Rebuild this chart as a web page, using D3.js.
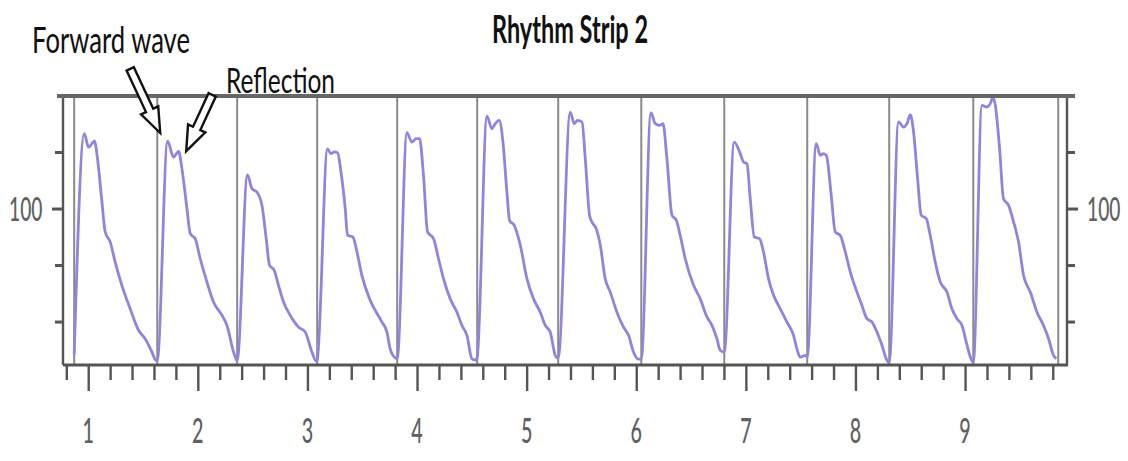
<!DOCTYPE html>
<html>
<head>
<meta charset="utf-8">
<script src="https://cdn.jsdelivr.net/npm/d3@7"></script>
<style>
  html, body { margin: 0; padding: 0; background: #ffffff; }
  svg { display: block; }
</style>
</head>
<body>
<svg id="chart" width="1128" height="461"></svg>
<script>
// ---- Data (time in s, pressure in mmHg) ----
const title = "Rhythm Strip 2";
const beatOnsets = [0.872, 1.630, 2.359, 3.089, 3.819, 4.549, 5.288, 6.046, 6.803, 7.560, 8.308, 9.075, 9.850];
const beat1 = [[0.872,48.5],[0.964,126.7],[1.003,121.9],[1.057,124.0],[1.085,117.8],[1.125,102.5],[1.155,91.9],[1.201,88.3],[1.246,81.2],[1.307,73.0],[1.383,64.7],[1.459,57.1],[1.520,54.1],[1.581,49.4],[1.620,46.4]];
const beat2 = [[1.630,46.4],[1.724,124.0],[1.778,118.4],[1.824,120.4],[1.855,114.3],[1.901,100.1],[1.931,91.3],[1.976,89.5],[2.022,82.4],[2.083,74.2],[2.143,67.1],[2.220,62.4],[2.266,58.8],[2.326,49.4],[2.355,46.5]];
const beat3 = [[2.359,46.4],[2.453,112.1],[2.494,107.2],[2.539,106.0],[2.585,101.3],[2.624,89.5],[2.654,80.1],[2.697,78.3],[2.736,73.0],[2.782,67.1],[2.843,62.4],[2.919,58.2],[2.980,56.5],[3.041,49.4],[3.080,46.2]];
const beat4 = [[3.089,46.5],[3.183,121.3],[3.214,119.6],[3.245,120.2],[3.275,119.9],[3.306,113.1],[3.345,100.1],[3.366,90.7],[3.415,90.1],[3.452,84.8],[3.497,76.5],[3.567,68.2],[3.619,64.1],[3.680,60.0],[3.725,56.5],[3.755,50.5],[3.801,47.3]];
const beat5 = [[3.819,47.0],[3.908,127.0],[3.953,123.7],[3.993,124.9],[4.023,124.9],[4.059,111.9],[4.096,91.9],[4.151,89.5],[4.196,82.4],[4.242,75.3],[4.303,68.2],[4.364,63.5],[4.410,58.8],[4.455,55.3],[4.501,47.0],[4.536,46.5]];
const beat6 = [[4.549,47.5],[4.638,132.9],[4.683,128.4],[4.714,130.2],[4.750,131.4],[4.784,123.7],[4.820,106.0],[4.844,96.0],[4.887,94.2],[4.942,87.2],[5.003,75.3],[5.063,68.2],[5.124,63.5],[5.170,58.8],[5.215,56.5],[5.261,48.2],[5.282,47.3]];
const beat7 = [[5.288,47.3],[5.398,134.3],[5.434,130.2],[5.464,131.4],[5.505,130.8],[5.535,117.8],[5.574,97.8],[5.596,95.4],[5.635,93.0],[5.672,87.2],[5.717,75.3],[5.763,70.6],[5.824,63.5],[5.884,58.2],[5.930,55.3],[5.975,49.4],[6.018,46.9]];
const beat8 = [[6.046,46.9],[6.134,134.1],[6.173,130.2],[6.213,129.6],[6.244,130.2],[6.280,117.8],[6.326,97.8],[6.365,96.0],[6.401,90.7],[6.447,82.4],[6.523,73.0],[6.584,68.2],[6.645,61.8],[6.691,58.8],[6.736,54.1],[6.766,50.0],[6.798,49.4]];
const beat9 = [[6.803,49.4],[6.894,123.7],[6.949,119.6],[6.979,116.6],[7.010,116.0],[7.040,103.6],[7.077,90.1],[7.125,89.5],[7.161,84.8],[7.207,75.3],[7.253,69.5],[7.314,64.7],[7.375,60.0],[7.435,55.3],[7.466,50.5],[7.496,47.6],[7.542,48.2]];
const beat10 = [[7.560,47.6],[7.642,123.1],[7.679,119.0],[7.704,119.6],[7.734,119.0],[7.776,106.0],[7.816,91.9],[7.861,90.7],[7.907,84.8],[7.953,77.7],[8.014,70.6],[8.059,65.9],[8.105,61.2],[8.151,60.0],[8.196,56.5],[8.242,51.8],[8.281,47.0],[8.304,45.8]];
const beat11 = [[8.308,45.8],[8.393,130.8],[8.439,129.0],[8.470,130.2],[8.500,133.4],[8.530,127.3],[8.567,110.7],[8.600,97.8],[8.646,96.6],[8.682,90.7],[8.728,81.2],[8.774,74.2],[8.835,70.6],[8.880,64.7],[8.926,61.2],[8.972,58.8],[9.018,51.8],[9.054,47.0],[9.072,45.8]];
const beat12 = [[9.075,45.8],[9.154,136.7],[9.200,136.1],[9.230,137.3],[9.255,139.6],[9.276,136.7],[9.315,121.3],[9.351,103.6],[9.397,101.3],[9.443,95.4],[9.488,88.3],[9.534,76.5],[9.595,70.6],[9.656,63.5],[9.716,58.8],[9.762,54.1],[9.807,48.2],[9.832,47.0]];
const beats = [beat1, beat2, beat3, beat4, beat5, beat6, beat7, beat8, beat9, beat10, beat11, beat12];

const xMajorTicks = [1, 2, 3, 4, 5, 6, 7, 8, 9];
const xTickLabels = ["1", "2", "3", "4", "5", "6", "7", "8", "9"];
const yTicks = [60, 80, 100, 120];
const yTickLabels = {100: "100"};

// annotations: [tail, tip] in data units
const annotations = [
  {label: "Forward wave", tail: [1.383, 149.6], tip: [1.657, 126.9]},
  {label: "Reflection",   tail: [2.131, 140.4], tip: [1.894, 120.5]}
];

// ---- Chart ----
const svg = d3.select("#chart");
const x = d3.scaleLinear().domain([0.77, 9.93]).range([63, 1067]);
const y = d3.scaleLinear().domain([44.8, 140]).range([365, 96]);
const axisColor = "#555";
const labelFont = "Lato, 'Open Sans', sans-serif";

// beat onset grid lines
svg.append("g").selectAll("line").data(beatOnsets).join("line")
  .attr("x1", d => x(d)).attr("x2", d => x(d))
  .attr("y1", y(140)).attr("y2", y(44.8))
  .attr("stroke", "#8a8a8a").attr("stroke-width", 2);

// waveform
const wave = beats.flat();
svg.append("path")
  .datum(wave)
  .attr("fill", "none")
  .attr("stroke", "#8f84de")
  .attr("stroke-width", 2.8)
  .attr("stroke-linejoin", "round")
  .attr("d", d3.line().x(d => x(d[0])).y(d => y(d[1])).curve(d3.curveMonotoneX));

// bottom axis (minor + major ticks)
const xMinor = d3.range(4, 50).map(i => i / 5).filter(v => v >= 0.77 && v <= 9.93 && !xMajorTicks.includes(v));
const gx = svg.append("g").attr("transform", `translate(0,${y(44.8)})`);
gx.call(d3.axisBottom(x).tickValues(xMinor).tickSize(15).tickFormat("").tickSizeOuter(0));
gx.call(g => g.select(".domain").remove());
const gx2 = svg.append("g").attr("transform", `translate(0,${y(44.8)})`);
gx2.call(d3.axisBottom(x).tickValues(xMajorTicks).tickSize(26).tickFormat("").tickSizeOuter(0));
gx2.call(g => g.select(".domain").remove());
svg.selectAll(".tick line").attr("stroke", axisColor).attr("stroke-width", 2.4);
svg.append("line").attr("x1", x(0.77)).attr("x2", x(9.93) + 1).attr("y1", y(44.8)).attr("y2", y(44.8))
  .attr("stroke", axisColor).attr("stroke-width", 3);

// x labels
svg.append("g").selectAll("text").data(xMajorTicks).join("text")
  .attr("transform", d => `translate(${x(d)},443) scale(0.58,1)`)
  .attr("text-anchor", "middle")
  .attr("font-family", labelFont)
  .attr("font-weight", 500)
  .attr("font-size", 34)
  .attr("fill", "#606060")
  .text((d, i) => xTickLabels[i]);

// left and right axes
[x(0.77), x(9.93)].forEach((px, side) => {
  svg.append("line").attr("x1", px).attr("x2", px).attr("y1", y(140)).attr("y2", y(44.8))
    .attr("stroke", axisColor).attr("stroke-width", 2.4);
  const dir = side === 0 ? -1 : 1;
  svg.append("g").selectAll("line").data(yTicks).join("line")
    .attr("x1", px).attr("x2", d => px + dir * (d === 100 ? 11 : 8))
    .attr("y1", d => y(d)).attr("y2", d => y(d))
    .attr("stroke", axisColor).attr("stroke-width", 3);
  svg.append("g").selectAll("text").data(yTicks.filter(d => yTickLabels[d])).join("text")
    .attr("transform", d => `translate(${side === 0 ? 9 : 1087},${y(d) + 12}) scale(0.6,1)`)
    .attr("font-family", labelFont)
    .attr("font-weight", 500)
    .attr("font-size", 32)
    .attr("fill", "#606060")
    .text(d => yTickLabels[d]);
});

// top border line
svg.append("line").attr("x1", 57).attr("x2", 1075).attr("y1", y(140)).attr("y2", y(140))
  .attr("stroke", "#666").attr("stroke-width", 4);

// arrows
function arrowPath(t0, t1) {
  const x0 = x(t0[0]), y0 = y(t0[1]), x1 = x(t1[0]), y1 = y(t1[1]);
  const dx = x1 - x0, dy = y1 - y0, len = Math.hypot(dx, dy);
  const ux = dx / len, uy = dy / len, nx = -uy, ny = ux;
  const w = 4, h = 9.5, L = 25;
  const kx = x1 - ux * L, ky = y1 - uy * L;
  const pts = [
    [x0 + nx * w, y0 + ny * w], [kx + nx * w, ky + ny * w], [kx + nx * h, ky + ny * h],
    [x1, y1], [kx - nx * h, ky - ny * h], [kx - nx * w, ky - ny * w], [x0 - nx * w, y0 - ny * w]
  ];
  return "M" + pts.map(p => p.join(",")).join("L") + "Z";
}
svg.append("g").selectAll("path").data(annotations).join("path")
  .attr("d", d => arrowPath(d.tail, d.tip))
  .attr("fill", "#fff").attr("stroke", "#111").attr("stroke-width", 2.4)
  .attr("stroke-linejoin", "miter");

// annotation texts
svg.append("text").attr("x", 32).attr("y", 53)
  .attr("textLength", 158).attr("lengthAdjust", "spacingAndGlyphs")
  .attr("font-family", labelFont).attr("font-size", 37).attr("fill", "#111")
  .text(annotations[0].label);
svg.append("text").attr("x", 226).attr("y", 93)
  .attr("textLength", 109).attr("lengthAdjust", "spacingAndGlyphs")
  .attr("font-family", labelFont).attr("font-size", 34).attr("fill", "#111")
  .text(annotations[1].label);

// title
svg.append("text").attr("x", 492).attr("y", 43)
  .attr("textLength", 156).attr("lengthAdjust", "spacingAndGlyphs")
  .attr("font-family", labelFont).attr("font-weight", "bold")
  .attr("font-size", 38).attr("fill", "#111")
  .text(title);
</script>
</body>
</html>
